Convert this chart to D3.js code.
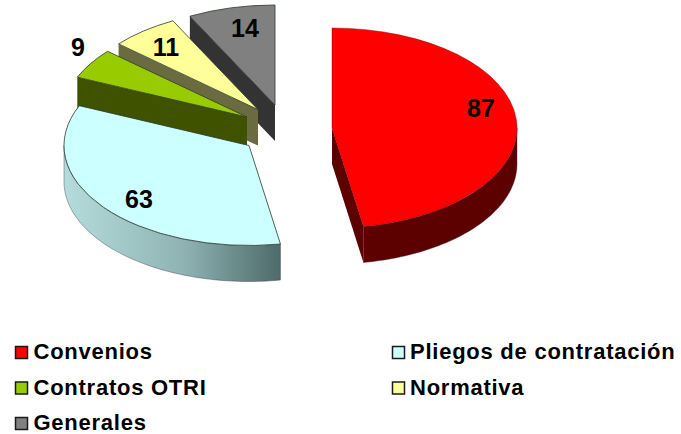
<!DOCTYPE html>
<html>
<head>
<meta charset="utf-8">
<script src="https://cdn.jsdelivr.net/npm/d3@7"></script>
<style>
  html, body { margin: 0; background: #fff; }
  text { font-family: "Liberation Sans", Arial, sans-serif; font-weight: bold; fill: #000; }
</style>
</head>
<body>
<div id="chart"></div>
<script>
var categories = ['Convenios', 'Pliegos de contratación', 'Contratos OTRI', 'Normativa', 'Generales'];
var values = [87, 63, 9, 11, 14];
var topColors = ['#ff0000', '#ccffff', '#99cc00', '#ffff99', '#808080'];
var wallColors = ['#5c0000', 'url(#pliegosWall)', '#3f5200', '#6b6b42', '#333333'];
var legendSwatchStroke = '#1a1a1a';

var width = 681, height = 434;
var rx = 185, ry = 100, depth = 36;

// where each exploded slice has its apex, same order as categories
var centers = [[332, 128], [249, 145.5], [247, 117], [258, 109.6], [275, 105]];
var labelPos = [[481, 108], [139, 199], [78, 47], [166, 47], [245, 28]];

var svg = d3.select('#chart').append('svg')
  .attr('width', width)
  .attr('height', height)
  .style('display', 'block');

var grad = svg.append('defs').append('linearGradient')
  .attr('id', 'pliegosWall')
  .attr('gradientUnits', 'userSpaceOnUse')
  .attr('x1', 64).attr('x2', 281).attr('y1', 0).attr('y2', 0);
grad.append('stop').attr('offset', '0%').attr('stop-color', '#b5dcdc');
grad.append('stop').attr('offset', '55%').attr('stop-color', '#8fb3b3');
grad.append('stop').attr('offset', '100%').attr('stop-color', '#4e6a6a');

var pie = d3.pie().sort(null).value(d => d)
  .startAngle(0).endAngle(2 * Math.PI);
var slices = pie(values);

var arc = d3.arc().innerRadius(0).outerRadius(rx);
var line = d3.line();

function rim(c, a) {
  return [c[0] + rx * Math.sin(a), c[1] - ry * Math.cos(a)];
}

function down(p) {
  return [p[0], p[1] + depth];
}

// outer curved wall, only the part facing the viewer
function outerWall(c, a0, a1) {
  var from = Math.max(a0, Math.PI / 2), to = Math.min(a1, 3 * Math.PI / 2);
  if (from >= to) return null;
  var steps = d3.range(0, 61).map(i => from + (to - from) * i / 60);
  var upper = steps.map(a => rim(c, a));
  return line(upper.concat(upper.slice().reverse().map(down))) + 'Z';
}

// straight cut wall between apex and rim
function cutWall(c, a) {
  var p = rim(c, a);
  return line([c, p, down(p), down(c)]) + 'Z';
}

// painter's order: back slices first
var g = svg.append('g').attr('class', 'slices');
d3.range(slices.length - 1, -1, -1).forEach(function(i) {
  var s = slices[i], c = centers[i];
  var wrap = g.append('g').attr('class', 'slice slice-' + i);

  if (Math.sin(s.startAngle) < -1e-6) {
    wrap.append('path').attr('d', cutWall(c, s.startAngle)).attr('fill', wallColors[i]);
  }
  if (Math.sin(s.endAngle) > 1e-6) {
    wrap.append('path').attr('d', cutWall(c, s.endAngle)).attr('fill', wallColors[i]);
  }
  var outer = outerWall(c, s.startAngle, s.endAngle);
  if (outer) {
    wrap.append('path')
      .attr('d', outer)
      .attr('fill', wallColors[i])
      .attr('stroke', '#334')
      .attr('stroke-width', 0.4);
  }

  wrap.append('path')
    .attr('d', arc(s))
    .attr('transform', 'translate(' + c[0] + ',' + c[1] + ') scale(1,' + ry / rx + ')')
    .attr('fill', topColors[i])
    .attr('stroke', i === 0 ? '#7a0000' : '#2b3a2b')
    .attr('stroke-width', i === 0 ? 0.4 : 0.8)
    .attr('vector-effect', 'non-scaling-stroke');
});

svg.append('g').attr('class', 'labels')
  .selectAll('text')
  .data(values)
  .enter().append('text')
  .attr('x', (d, i) => labelPos[i][0])
  .attr('y', (d, i) => labelPos[i][1])
  .attr('text-anchor', 'middle')
  .attr('dominant-baseline', 'central')
  .style('font-size', '25px')
  .text(d => d);

var legendX = d3.scaleOrdinal().domain([0, 1]).range([15, 392]);
var legendY = d3.scaleLinear().domain([0, 2]).range([359, 430]);

var legend = svg.append('g').attr('class', 'legend')
  .selectAll('g')
  .data(categories)
  .enter().append('g')
  .attr('transform', (d, i) => 'translate(' + legendX(i % 2) + ',' + legendY(Math.floor(i / 2)) + ')');

legend.append('rect')
  .attr('x', 0.5)
  .attr('y', -12.5)
  .attr('width', 12)
  .attr('height', 12)
  .attr('fill', (d, i) => topColors[i])
  .attr('stroke', legendSwatchStroke)
  .attr('stroke-width', 1.5);

legend.append('text')
  .attr('x', (d, i) => i % 2 ? 18 : 18.5)
  .attr('y', 0)
  .style('font-size', '22px')
  .style('letter-spacing', '0.75px')
  .text(d => d);
</script>
</body>
</html>
